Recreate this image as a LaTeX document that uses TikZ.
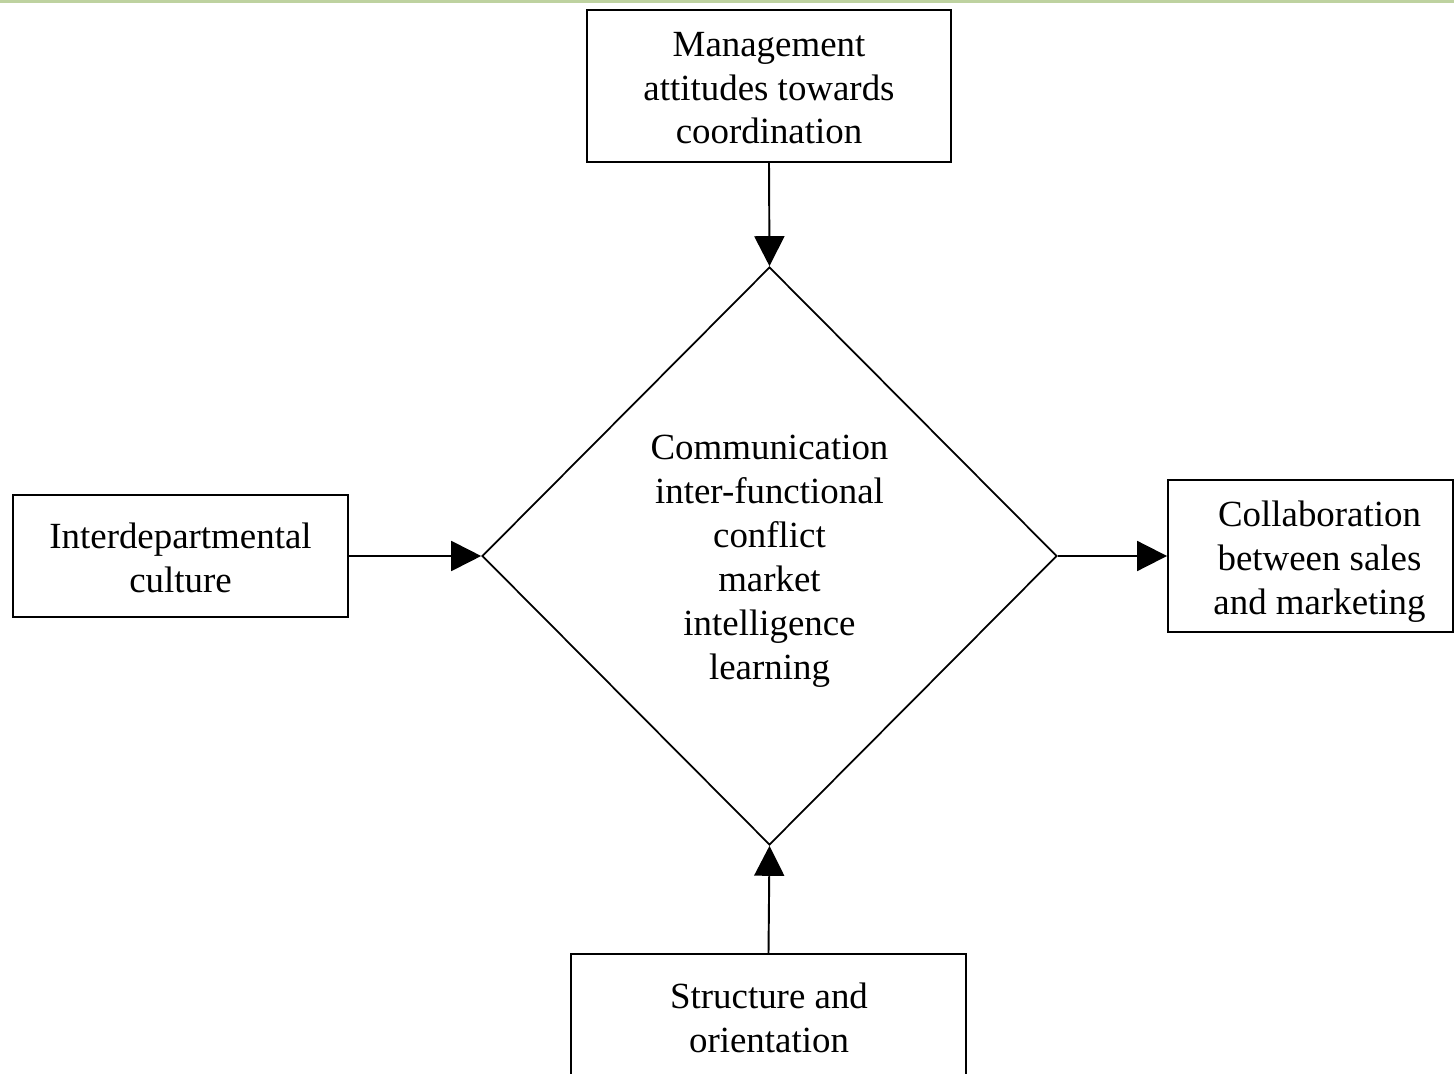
\documentclass[tikz,border=0pt]{standalone}
\usepackage{fontspec}
\setmainfont{Liberation Serif}
\usetikzlibrary{shapes.geometric,arrows.meta}
\definecolor{topline}{RGB}{190,210,160}
\newcommand\mvtext[3]{\raisebox{#2}[\height][\depth]{\hspace*{#1}\begin{tabular}{@{}c@{}}#3\end{tabular}\hspace*{-#1}}}
\begin{document}
\begin{tikzpicture}[x=0.02cm,y=-0.02cm,
  boxnode/.style={draw,line width=1.1pt,inner sep=0pt,
    font=\fontsize{21}{25}\selectfont},
  conn/.style={line width=1.1pt,-{Triangle[length=0.6cm,width=0.6cm]}},
  ]
\useasboundingbox (0,0) rectangle (1454,1074);
\clip (0,0) rectangle (1454,1074);
\draw[topline,line width=2pt] (0,1) -- (1454,1);
\node[boxnode,minimum width=7.28cm,minimum height=3.04cm] (top) at (769,86)
  {\mvtext{0pt}{-3pt}{Management\\attitudes towards\\coordination}};
\node[boxnode,shape=diamond,minimum width=11.5cm,minimum height=11.56cm,line width=1pt] (mid) at (769.5,556)
  {\mvtext{0pt}{-2.8pt}{Communication\\inter-functional\\conflict\\market\\intelligence\\learning}};
\node[boxnode,minimum width=6.7cm,minimum height=2.44cm] (left) at (180.5,556)
  {\mvtext{0pt}{-3.4pt}{Interdepartmental\\culture}};
\node[boxnode,minimum width=5.7cm,minimum height=3.04cm] (right) at (1310.5,556)
  {\mvtext{0.18cm}{-3.2pt}{Collaboration\\between sales\\and marketing}};
\node[boxnode,minimum width=7.9cm,minimum height=3.2cm,anchor=north] (bot) at (768.5,953) {};
\node[font=\fontsize{21}{25}\selectfont,inner sep=0pt] (bottxt) at (769,1018)
  {\mvtext{0pt}{-2.3pt}{Structure and\\orientation}};
\draw[conn] (top.south) -- (mid.north);
\draw[conn] (left.east) -- (mid.west);
\draw[conn] (mid.east) -- (right.west);
\draw[conn] (bot.north) -- (mid.south);
\end{tikzpicture}
\end{document}
